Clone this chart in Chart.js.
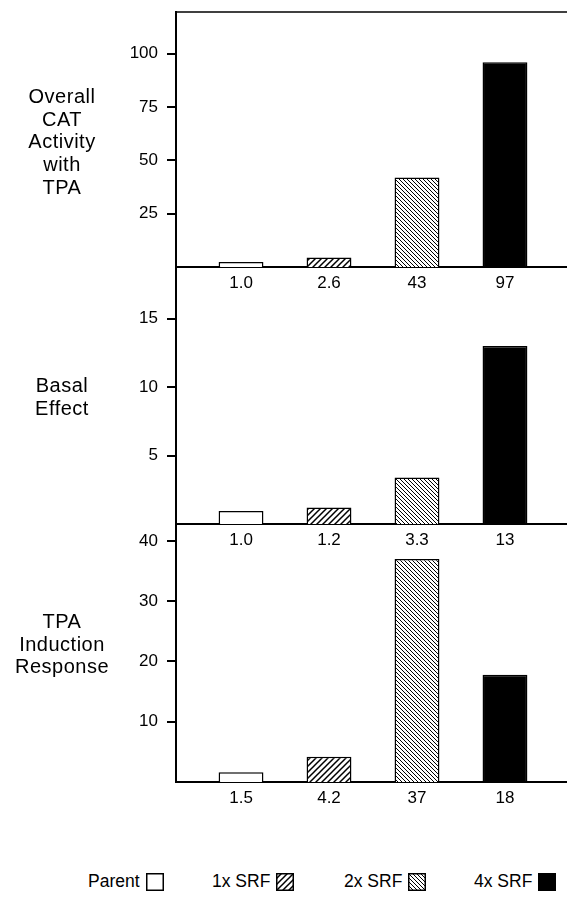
<!DOCTYPE html>
<html>
<head>
<meta charset="utf-8">
<script src="https://cdn.jsdelivr.net/npm/chart.js@4.4.1/dist/chart.umd.min.js"></script>
<style>
  html, body { margin:0; padding:0; background:#fff; }
  body { width:567px; height:897px; position:relative; overflow:hidden;
         font-family:"Liberation Sans", Arial, Helvetica, sans-serif; color:#000; }
  canvas.panel { position:absolute; left:0; }
  .side { position:absolute; width:124px; left:0; text-align:center;
          font-size:20px; line-height:22.7px; letter-spacing:0.5px; }
  .leg { position:absolute; top:871px; display:flex; align-items:center; font-size:17.5px; }
  .leg canvas { margin-left:6px; }
</style>
</head>
<body>
<canvas id="c1" class="panel" width="567" height="308" style="top:-8px"></canvas>
<canvas id="c2" class="panel" width="567" height="310" style="top:247px"></canvas>
<canvas id="c3" class="panel" width="567" height="311" style="top:504px"></canvas>

<div class="side" style="top:85px">Overall<br>CAT<br>Activity<br>with<br>TPA</div>
<div class="side" style="top:374px">Basal<br>Effect</div>
<div class="side" style="top:610px">TPA<br>Induction<br>Response</div>

<div class="leg" style="left:88px"><span>Parent</span><canvas id="s0" width="18" height="18"></canvas></div>
<div class="leg" style="left:212px"><span>1x SRF</span><canvas id="s1" width="18" height="18"></canvas></div>
<div class="leg" style="left:344px"><span>2x SRF</span><canvas id="s2" width="18" height="18"></canvas></div>
<div class="leg" style="left:474px"><span>4x SRF</span><canvas id="s3" width="18" height="18"></canvas></div>

<script>
// ---- data ----
const groups = ['Parent', '1x SRF', '2x SRF', '4x SRF'];

const overallValues = [2.3, 4.4, 42, 96];
const overallLabels = ['1.0', '2.6', '43', '97'];
const overallTicks  = [25, 50, 75, 100];

const basalValues = [0.95, 1.2, 3.4, 13.0];
const basalLabels = ['1.0', '1.2', '3.3', '13'];
const basalTicks  = [5, 10, 15];

const inductionValues = [1.6, 4.2, 37, 17.8];
const inductionLabels = ['1.5', '4.2', '37', '18'];
const inductionTicks  = [10, 20, 30, 40];

const overallMax = 119.5;
const basalMax = 18.76;
const inductionMax = 42.8;

// ---- styling ----
Chart.defaults.font.family = '"Liberation Sans", Arial, Helvetica, sans-serif';
Chart.defaults.color = '#000';

function makeHatch(dir, s, lw) {
  const c = document.createElement('canvas');
  c.width = s; c.height = s;
  const g = c.getContext('2d');
  g.fillStyle = '#fff'; g.fillRect(0, 0, s, s);
  g.strokeStyle = '#000'; g.lineWidth = lw;
  g.beginPath();
  if (dir === '/') {
    g.moveTo(-1, s + 1); g.lineTo(s + 1, -1);
    g.moveTo(-2, 2); g.lineTo(2, -2);
    g.moveTo(s - 2, s + 2); g.lineTo(s + 2, s - 2);
  } else {
    g.moveTo(-1, -1); g.lineTo(s + 1, s + 1);
    g.moveTo(-2, s - 2); g.lineTo(2, s + 2);
    g.moveTo(s - 2, -2); g.lineTo(s + 2, 2);
  }
  g.stroke();
  return g.createPattern(c, 'repeat');
}
const fills = ['#ffffff', makeHatch('/', 6, 1.5), makeHatch('\\', 4, 1), '#000000'];

const X_MIN = -0.739, X_MAX = 3.705;

const topLine = {
  id: 'topLine',
  afterDraw(chart, args, opts) {
    if (!opts.show) return;
    const {ctx, chartArea} = chart;
    ctx.save();
    ctx.strokeStyle = '#000'; ctx.lineWidth = 1.5;
    ctx.beginPath();
    ctx.moveTo(chartArea.left - 1, chartArea.top);
    ctx.lineTo(chartArea.right, chartArea.top);
    ctx.stroke();
    ctx.restore();
  }
};

function panel(id, values, labels, tickVals, yMax, showTop) {
  return new Chart(document.getElementById(id), {
    type: 'bar',
    data: {
      labels: groups,
      datasets: [{
        data: values.map((v, i) => ({x: i, y: v})),
        backgroundColor: fills,
        borderColor: '#000',
        borderWidth: 1.5,
        borderSkipped: 'bottom',
        categoryPercentage: 1,
        barPercentage: 0.51
      }]
    },
    options: {
      responsive: false,
      animation: false,
      layout: { padding: { top: 20, left: 0, right: 0, bottom: 0 } },
      plugins: { legend: { display: false }, tooltip: { enabled: false }, topLine: { show: showTop } },
      scales: {
        x: {
          type: 'linear', min: X_MIN, max: X_MAX, offset: false,
          grid: { display: false, drawTicks: false, offset: false },
          border: { display: true, color: '#000', width: 2 },
          ticks: { font: { size: 17 }, color: '#000', padding: 6, maxRotation: 0,
                   callback: (v) => (labels[v] !== undefined ? labels[v] : '') },
          afterBuildTicks: (s) => { s.ticks = labels.map((_, i) => ({ value: i })); },
          afterFit: (s) => { s.height = 33; }
        },
        y: {
          min: 0, max: yMax, position: 'left',
          grid: { display: true, drawOnChartArea: false, drawTicks: true, tickLength: 9, lineWidth: 2, color: '#000' },
          border: { display: true, color: '#000', width: 2 },
          ticks: { font: { size: 17 }, color: '#000', padding: 9 },
          afterBuildTicks: (s) => { s.ticks = tickVals.map(v => ({ value: v })); },
          afterFit: (s) => { s.width = 176; }
        }
      }
    },
    plugins: [topLine]
  });
}

panel('c1', overallValues, overallLabels, overallTicks, overallMax, true);
panel('c2', basalValues, basalLabels, basalTicks, basalMax, false);
panel('c3', inductionValues, inductionLabels, inductionTicks, inductionMax, false);

// legend swatches
groups.forEach((g, i) => {
  const c = document.getElementById('s' + i);
  const x = c.getContext('2d');
  x.fillStyle = fills[i];
  x.fillRect(0, 0, 18, 18);
  x.strokeStyle = '#000'; x.lineWidth = 1.5;
  x.strokeRect(0.75, 0.75, 16.5, 16.5);
});
</script>
</body>
</html>
